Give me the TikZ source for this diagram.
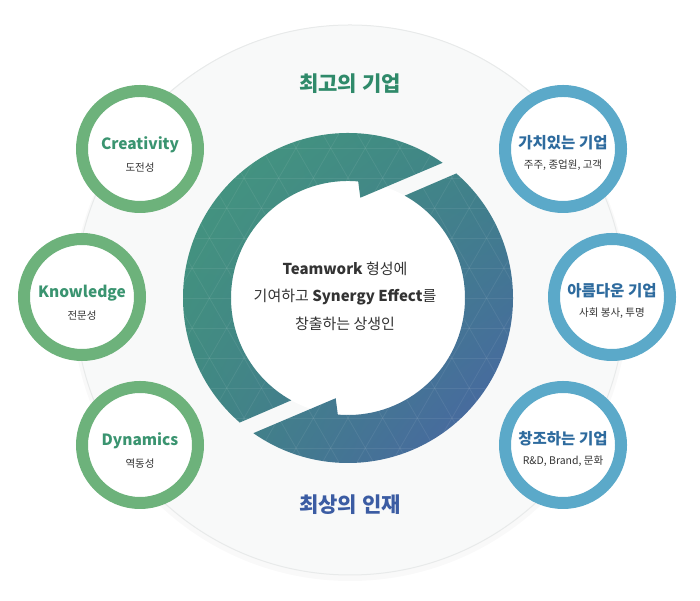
\documentclass[tikz,border=0pt]{standalone}
\usepackage{fontspec}
\setmainfont{Noto Sans CJK KR}
\usetikzlibrary{positioning, shadings}

\definecolor{ringgreen}{HTML}{6DB27B}
\definecolor{ringblue}{HTML}{5BA9C9}
\definecolor{titlegreen}{HTML}{3A9470}
\definecolor{titleblue}{HTML}{2E6B9E}
\definecolor{txtdark}{HTML}{333333}
\definecolor{topgreen}{HTML}{2F8A6A}
\definecolor{botblue}{HTML}{3B5CA3}
\definecolor{bigfill}{HTML}{F8F9F9}
\definecolor{bigedge}{HTML}{E8EAEA}
\definecolor{arrUL}{HTML}{45997D}
\definecolor{arrUR}{HTML}{3E8486}
\definecolor{arrLL}{HTML}{3F8682}
\definecolor{arrLR}{HTML}{4A60A8}

\tikzset{
  gring/.style={circle, draw=ringgreen, line width=12pt, fill=white,
    minimum size=116pt, inner sep=0pt},
  bring/.style={gring, draw=ringblue},
  gtitle/.style={font=\fontsize{15.5}{18}\selectfont\bfseries, text=titlegreen},
  btitle/.style={gtitle, text=titleblue},
  subtxt/.style={font=\fontsize{10.5}{12}\selectfont, text=txtdark},
  bigtitle/.style={font=\fontsize{21}{24}\selectfont\bfseries},
  tri/.style={white, opacity=0.07, line width=0.8pt}
}

\begin{document}
\begin{tikzpicture}[x=1pt, y=1pt]
    \useasboundingbox (0,0) rectangle (700,601);

    % faint back circle
    \fill[black!2.5] (350,298) circle (278);
    \fill[bigfill] (350,301) circle (275);
    \draw[bigedge, line width=1pt] (350,301) circle (275);

    % cycle arrows
    \begin{scope}[shift={(348,303)}]
        \fill[white] (0,0) circle (117);
        \begin{scope}
            \clip (229:165) arc[start angle=229, end angle=55, radius=165]
                  -- (83:101) -- (85:117)
                  arc[start angle=85, end angle=241, radius=117] -- cycle
                  (49:165) arc[start angle=49, end angle=-125, radius=165]
                  -- (-97:101) -- (-95:117)
                  arc[start angle=-95, end angle=61, radius=117] -- cycle;
            \shade[upper left=arrUL, upper right=arrUR, lower left=arrLL,
                   lower right=arrLR] (-170,-170) rectangle (170,170);
            \foreach \k in {-7,...,7} {
                \draw[tri] (-200,\k*30) -- (200,\k*30);
                \draw[tri] (\k*34.64,0) ++(-60:260) -- ++(120:520);
                \draw[tri] (\k*34.64,0) ++(-120:260) -- ++(60:520);
            }
        \end{scope}
    \end{scope}

    \node[align=center, font=\fontsize{15}{27.5}\selectfont, text=txtdark] (core) at (345,305)
        {{\bfseries Teamwork} 형성에\\기여하고 {\bfseries Synergy Effect}를\\창출하는 상생인};

    \node[bigtitle, text=topgreen] (best) at (350,517) {최고의 기업};
    \node[bigtitle, text=botblue] (talent) at (350,96) {최상의 인재};

    % side circles
    \foreach \nm/\px/\py/\ttl/\sub in {crea/140/452/Creativity/도전성,
        know/82/304/Knowledge/전문성, dyna/140/156/Dynamics/역동성} {
        \node[gring] (\nm) at (\px,\py) {};
        \node[gtitle] (\nm-t) at ([yshift=4pt]\nm.center) {\ttl};
        \node[subtxt] (\nm-s) at ([yshift=-19pt]\nm.center) {\sub};
    }
    \foreach \nm/\px/\py/\ttl/\sub in {valu/563/452/가치있는 기업/{주주, 종업원, 고객},
        beau/612/304/아름다운 기업/{사회 봉사, 투명}, crtv/563/156/창조하는 기업/{R\&D, Brand, 문화}} {
        \node[bring] (\nm) at (\px,\py) {};
        \node[btitle] (\nm-t) at ([yshift=6pt]\nm.center) {\ttl};
        \node[subtxt] (\nm-s) at ([yshift=-16pt]\nm.center) {\sub};
    }
\end{tikzpicture}
\end{document}
